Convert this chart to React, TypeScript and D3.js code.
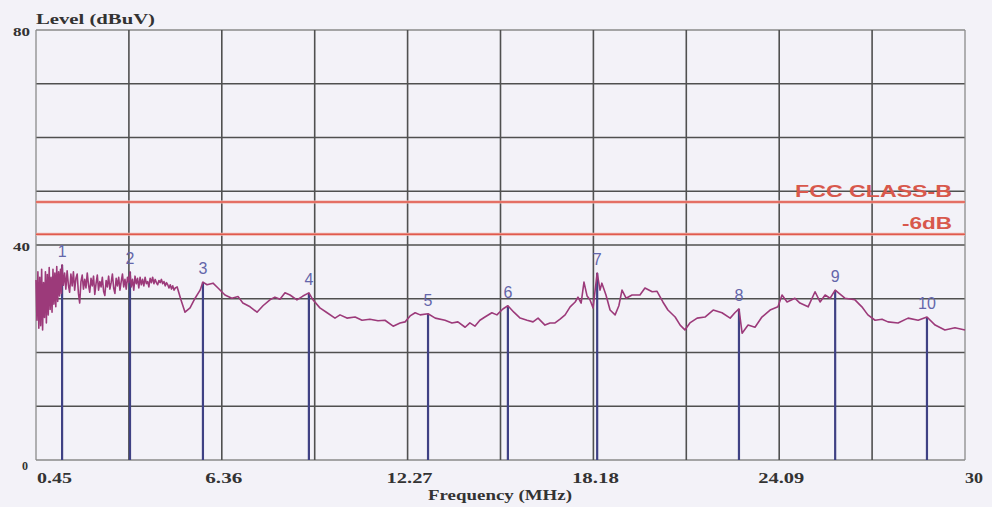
import React from "react";
import * as d3 from "d3";

const W = 992;
const H = 507;

// Level trace: [frequency MHz, level dBuV]
const trace: [number, number][] = [
  [0.45, 33.5], [0.48, 26], [0.51, 35], [0.54, 24.5], [0.57, 34], [0.6, 25], [0.63, 35.5],
  [0.66, 24.2], [0.69, 33], [0.72, 26.5], [0.75, 35], [0.78, 25.5], [0.81, 34.5], [0.84, 27],
  [0.87, 35.8], [0.9, 28], [0.93, 34], [0.96, 27.5], [0.99, 35.5], [1.02, 29], [1.05, 34.8],
  [1.08, 28.5], [1.11, 36], [1.14, 29.5], [1.17, 35], [1.2, 30.5], [1.23, 35.5], [1.26, 31],
  [1.28, 36.3], [1.32, 32.5], [1.36, 34.8], [1.4, 31.8], [1.44, 35.2], [1.48, 32.6], [1.52, 31.2],
  [1.56, 34.6], [1.6, 32.4], [1.64, 35.0], [1.68, 31.6], [1.72, 33.8], [1.76, 34.6], [1.8, 31.0],
  [1.84, 29.2], [1.88, 33.2], [1.92, 34.4], [1.96, 31.8], [2.0, 33.6], [2.04, 32.0], [2.08, 34.8],
  [2.12, 32.6], [2.16, 31.2], [2.2, 33.8], [2.24, 32.4], [2.28, 34.2], [2.32, 30.8], [2.36, 32.8],
  [2.4, 34.4], [2.44, 31.6], [2.48, 33.2], [2.52, 32.2], [2.56, 34.0], [2.6, 31.4], [2.64, 30.6],
  [2.68, 33.4], [2.72, 32.2], [2.76, 34.2], [2.8, 31.8], [2.84, 33.0], [2.88, 34.6], [2.92, 32.0],
  [2.96, 31.0], [3.0, 33.8], [3.04, 32.4], [3.08, 34.0], [3.12, 31.6], [3.16, 33.2], [3.2, 34.6],
  [3.24, 32.2], [3.28, 33.6], [3.32, 31.8], [3.36, 34.0], [3.4, 33.0], [3.44, 35.0], [3.48, 32.2],
  [3.52, 33.6], [3.56, 31.6], [3.6, 34.2], [3.64, 32.8], [3.68, 33.8], [3.72, 32.0], [3.76, 34.0],
  [3.8, 32.6], [3.84, 33.6], [3.88, 32.4], [3.92, 34.0], [3.96, 32.8], [4.0, 33.2], [4.04, 32.2],
  [4.08, 33.8], [4.12, 33.0], [4.16, 34.0], [4.2, 32.8], [4.24, 33.6], [4.28, 33.0], [4.32, 32.6],
  [4.36, 33.4], [4.4, 33.0], [4.44, 33.6], [4.48, 32.8], [4.52, 33.2], [4.56, 32.4], [4.6, 33.0],
  [4.64, 32.6], [4.68, 32.0], [4.72, 32.6], [4.76, 31.8], [4.8, 32.4], [4.84, 31.6], [4.88, 32.0],
  [4.94, 32.2], [5.06, 29.8], [5.19, 27.5],
  [5.35, 28.3], [5.51, 30.1], [5.67, 31.6], [5.76, 33.1], [5.89, 32.6], [6.08, 32.9], [6.24, 32.0],
  [6.46, 30.7], [6.68, 30.1], [6.88, 30.4], [7.03, 29.2], [7.26, 28.5], [7.48, 27.5], [7.67, 28.7],
  [7.89, 29.8], [8.05, 30.3], [8.21, 29.9], [8.37, 31.1], [8.53, 30.7], [8.75, 29.8], [8.94, 30.5],
  [9.13, 31.1], [9.26, 29.8], [9.48, 28.3], [9.71, 27.4], [9.96, 26.4], [10.12, 27.0], [10.34, 26.4],
  [10.6, 26.6], [10.82, 26.0], [11.07, 26.2], [11.33, 25.9], [11.55, 26.0], [11.81, 24.9], [12.03, 25.5],
  [12.19, 25.7], [12.35, 26.8], [12.51, 27.4], [12.67, 27.0], [12.92, 27.2], [13.15, 26.4], [13.46, 26.0],
  [13.68, 25.5], [13.87, 25.7], [14.1, 24.7], [14.25, 25.5], [14.41, 24.9], [14.57, 26.0], [14.73, 26.6],
  [14.95, 27.4], [15.11, 27.0], [15.3, 28.1], [15.46, 28.7], [15.65, 27.5], [15.85, 26.4], [16.07, 26.0],
  [16.26, 25.7], [16.42, 26.4], [16.64, 25.1], [16.8, 25.5], [16.96, 25.5], [17.12, 26.2], [17.28, 27.0],
  [17.44, 28.5], [17.6, 29.4], [17.69, 30.3], [17.79, 29.2], [17.88, 33.1], [17.98, 30.5], [18.07, 29.8],
  [18.17, 28.3], [18.3, 34.8], [18.39, 31.6], [18.45, 32.9], [18.58, 30.7], [18.71, 27.9], [18.87, 27.0],
  [18.99, 28.7], [19.09, 31.6], [19.22, 30.1], [19.41, 30.7], [19.66, 30.7], [19.82, 32.0], [20.05, 31.3],
  [20.2, 31.4], [20.39, 29.4], [20.55, 27.9], [20.78, 26.6], [20.94, 25.1], [21.09, 24.2], [21.25, 25.5],
  [21.48, 26.4], [21.73, 26.6], [21.99, 27.9], [22.27, 27.4], [22.53, 26.4], [22.68, 27.4], [22.81, 28.1],
  [22.91, 23.6], [23.1, 25.1], [23.32, 24.7], [23.54, 26.6], [23.8, 27.9], [24.05, 28.5], [24.18, 30.7],
  [24.34, 29.4], [24.59, 30.1], [24.75, 29.2], [25.01, 28.5], [25.23, 31.3], [25.39, 29.4], [25.55, 30.7],
  [25.71, 30.1], [25.87, 31.6], [26.18, 30.1], [26.5, 29.8], [26.72, 28.5], [26.91, 27.0], [27.14, 26.0],
  [27.36, 26.2], [27.55, 25.7], [27.87, 25.5], [28.19, 26.4], [28.51, 26.0], [28.79, 26.6], [29.05, 25.1],
  [29.36, 24.2], [29.68, 24.6], [30.0, 24.2],
];

const markerLabels = ["1", "2", "3", "4", "5", "6", "7", "8", "9", "10"];
const markerFreq = [1.28, 3.44, 5.76, 9.13, 12.92, 15.46, 18.3, 22.81, 25.87, 28.79];
const markerLevel = [36.3, 35.0, 33.1, 31.1, 27.2, 28.7, 34.8, 28.1, 31.6, 26.6];

const limitNames = ["FCC CLASS-B", "-6dB"];
const limitLevels = [48, 42];

const xTickValues = [0.45, 6.36, 12.27, 18.18, 24.09, 30];
const xTickLabels = ["0.45", "6.36", "12.27", "18.18", "24.09", "30"];
const yTickValues = [0, 40, 80];
const yTickLabels = ["0", "40", "80"];

const xMin = 0.45;
const xMax = 30;
const yMin = 0;
const yMax = 80;

export default function App() {
  const left = 36, right = 965, top = 30, bottom = 460;
  const x = d3.scaleLinear().domain([xMin, xMax]).range([left, right]);
  const y = d3.scaleLinear().domain([yMin, yMax]).range([bottom, top]);

  const vGrid = d3.range(11).map((i) => xMin + (i * (xMax - xMin)) / 10);
  const hGrid = d3.range(0, 81, 10);

  const line = d3
    .line<[number, number]>()
    .x((d) => x(d[0]))
    .y((d) => y(d[1]));

  const serif = "'Liberation Serif', 'DejaVu Serif', serif";
  const sans = "'Liberation Sans', Arial, sans-serif";

  const xLabelWidths = [35, 37, 46, 47, 46, 18];

  return (
    <svg
      width={W}
      height={H}
      style={{ position: "absolute", left: 0, top: 0, background: "#f3f2f8" }}
    >
      <rect x={0} y={0} width={W} height={H} fill="#f3f2f8" />
      {/* grid */}
      {hGrid.map((v) => (
        <line
          key={"h" + v}
          x1={left}
          x2={right}
          y1={y(v)}
          y2={y(v)}
          stroke={v === 0 || v === 80 ? "#8a8a8a" : "#505050"}
          strokeWidth={v === 0 || v === 80 ? 1.3 : 1.6}
        />
      ))}
      {vGrid.map((v, i) => (
        <line
          key={"v" + i}
          x1={x(v)}
          x2={x(v)}
          y1={top}
          y2={bottom}
          stroke={i === 0 || i === 10 ? "#8a8a8a" : "#505050"}
          strokeWidth={i === 0 || i === 10 ? 1.3 : 1.6}
        />
      ))}

      {/* limit lines */}
      {limitLevels.map((lv, i) => (
        <g key={"l" + i}>
          <line x1={left} x2={right} y1={y(lv)} y2={y(lv)} stroke="#f0b4ac" strokeWidth={3} />
          <line x1={left} x2={right} y1={y(lv)} y2={y(lv)} stroke="#e05a4e" strokeWidth={1.3} />
          <text
            x={952}
            y={y(lv) - 5}
            textAnchor="end"
            fontFamily={sans}
            fontWeight="bold"
            fontSize={17}
            fill="#d8584c"
            textLength={i === 0 ? 157 : 50}
            lengthAdjust="spacingAndGlyphs"
          >
            {limitNames[i]}
          </text>
        </g>
      ))}

      {/* markers */}
      {markerFreq.map((f, i) => (
        <g key={"m" + i}>
          <line
            x1={x(f)}
            x2={x(f)}
            y1={bottom}
            y2={y(markerLevel[i])}
            stroke="#3f4184"
            strokeWidth={2.2}
          />
          <text
            x={x(f)}
            y={y(markerLevel[i]) - 8}
            textAnchor="middle"
            fontFamily={sans}
            fontSize={16}
            fill="#6466aa"
          >
            {markerLabels[i]}
          </text>
        </g>
      ))}

      {/* trace */}
      <path d={line(trace) || ""} fill="none" stroke="#9c3a7a" strokeWidth={1.6} strokeLinejoin="round" />

      {/* y labels */}
      {yTickValues.map((v, i) => (
        <text
          key={"yt" + v}
          x={v === 0 ? 28 : 30}
          y={y(v) + (v === 0 ? 10 : 6)}
          textAnchor="end"
          fontFamily={serif}
          fontWeight="bold"
          fontSize={13}
          fill="#333"
          textLength={v === 0 ? 6 : 17}
          lengthAdjust="spacingAndGlyphs"
        >
          {yTickLabels[i]}
        </text>
      ))}
      <text
        x={36}
        y={24}
        fontFamily={serif}
        fontWeight="bold"
        fontSize={15}
        fill="#333"
        textLength={119}
        lengthAdjust="spacingAndGlyphs"
      >
        Level (dBuV)
      </text>

      {/* x labels */}
      {xTickValues.map((v, i) => {
        const last = i === xTickValues.length - 1;
        const first = i === 0;
        const w = xLabelWidths[i];
        const cx = first ? x(v) + 1 + w / 2 : last ? x(v) + w / 2 : x(v) + 2;
        return (
          <text
            key={"xt" + i}
            x={cx}
            y={483}
            textAnchor="middle"
            fontFamily={serif}
            fontWeight="bold"
            fontSize={15}
            fill="#333"
            textLength={w}
            lengthAdjust="spacingAndGlyphs"
          >
            {xTickLabels[i]}
          </text>
        );
      })}
      <text
        x={500}
        y={500}
        textAnchor="middle"
        fontFamily={serif}
        fontWeight="bold"
        fontSize={15}
        fill="#333"
        textLength={144}
        lengthAdjust="spacingAndGlyphs"
      >
        Frequency (MHz)
      </text>
    </svg>
  );
}
